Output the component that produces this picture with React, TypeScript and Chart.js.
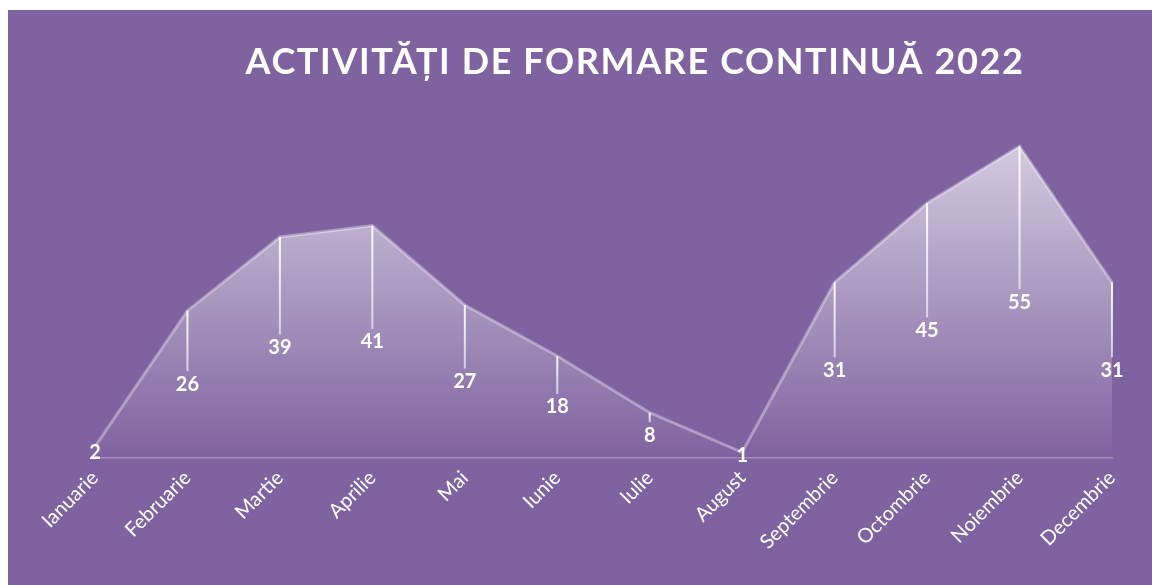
import { useEffect, useRef } from "react";
import { Chart, registerables } from "chart.js";

Chart.register(...registerables);

const months = [
  "Ianuarie", "Februarie", "Martie", "Aprilie", "Mai", "Iunie",
  "Iulie", "August", "Septembrie", "Octombrie", "Noiembrie", "Decembrie",
];
const activities = [2, 26, 39, 41, 27, 18, 8, 1, 31, 45, 55, 31];
const chartTitle = "ACTIVITĂȚI DE FORMARE CONTINUĂ 2022";
const yMin = 0;
const yMax = 60;

const BG = "#7f63a0";
const FONT = "Lato, 'Open Sans', sans-serif";

const titlePlugin = {
  id: "customTitle",
  afterDraw(chart: any) {
    const ctx = chart.ctx;
    ctx.save();
    ctx.fillStyle = "#ffffff";
    ctx.font = `bold 36px ${FONT}`;
    ctx.textAlign = "center";
    ctx.textBaseline = "middle";
    try { (ctx as any).letterSpacing = "1.6px"; } catch (e) {}
    ctx.fillText(chartTitle, 627, 52);
    ctx.restore();
  },
};

const dropLabelPlugin = {
  id: "dropLabels",
  afterDatasetsDraw(chart: any) {
    const ctx = chart.ctx;
    const meta = chart.getDatasetMeta(0);
    const y0 = chart.scales.y.getPixelForValue(0);
    ctx.save();
    meta.data.forEach((pt: any, i: number) => {
      const x = pt.x;
      const y = pt.y;
      const ly = (y + y0) / 2;
      const top = ly - 13;
      if (top - y > 2) {
        const g = ctx.createLinearGradient(0, y, 0, top);
        g.addColorStop(0, "rgba(255,255,255,0.95)");
        g.addColorStop(1, "rgba(255,255,255,0.6)");
        ctx.strokeStyle = g;
        ctx.lineWidth = 2;
        ctx.beginPath();
        ctx.moveTo(x, y);
        ctx.lineTo(x, top);
        ctx.stroke();
      }
      ctx.fillStyle = "#ffffff";
      ctx.font = `bold 20px ${FONT}`;
      ctx.textAlign = "center";
      ctx.textBaseline = "middle";
      ctx.fillText(String(activities[i]), x, ly);
    });
    ctx.restore();
  },
};

export default function App() {
  const ref = useRef<HTMLCanvasElement | null>(null);

  useEffect(() => {
    if (!ref.current) return;
    const chart = new Chart(ref.current, {
      type: "line",
      data: {
        labels: months,
        datasets: [
          {
            data: activities,
            borderColor: "rgba(255,255,255,0.35)",
            borderWidth: 3,
            pointRadius: 0,
            tension: 0,
            fill: "origin",
            backgroundColor: (context: any) => {
              const chart = context.chart;
              const { chartArea, scales } = chart;
              if (!chartArea || !scales.y) return "rgba(255,255,255,0.3)";
              const top = scales.y.getPixelForValue(55);
              const bottom = scales.y.getPixelForValue(0);
              const g = chart.ctx.createLinearGradient(0, top, 0, bottom);
              g.addColorStop(0, "rgba(255,255,255,0.66)");
              g.addColorStop(1, "rgba(255,255,255,0.0)");
              return g;
            },
          },
        ],
      },
      options: {
        animation: false,
        responsive: false,
        maintainAspectRatio: false,
        layout: { padding: { top: 108, left: 87, right: 40, bottom: 0 } },
        plugins: {
          legend: { display: false },
          title: { display: false },
          tooltip: { enabled: false },
        },
        scales: {
          y: { display: false, min: yMin, max: yMax },
          x: {
            offset: false,
            grid: { display: false },
            border: { display: true, color: "rgba(255,255,255,0.28)", width: 1.5 },
            ticks: {
              color: "#ffffff",
              font: { family: FONT, size: 20 },
              minRotation: 45,
              maxRotation: 45,
              padding: 0,
            },
            afterFit(scale: any) {
              scale.height = 127;
            },
          },
        },
      },
      plugins: [dropLabelPlugin, titlePlugin],
    } as any);
    return () => chart.destroy();
  }, []);

  return (
    <div
      style={{
        position: "fixed",
        left: 8,
        top: 10,
        width: 1144,
        height: 575,
        background: BG,
      }}
    >
      <canvas ref={ref} width={1144} height={575} style={{ display: "block" }} />
    </div>
  );
}
